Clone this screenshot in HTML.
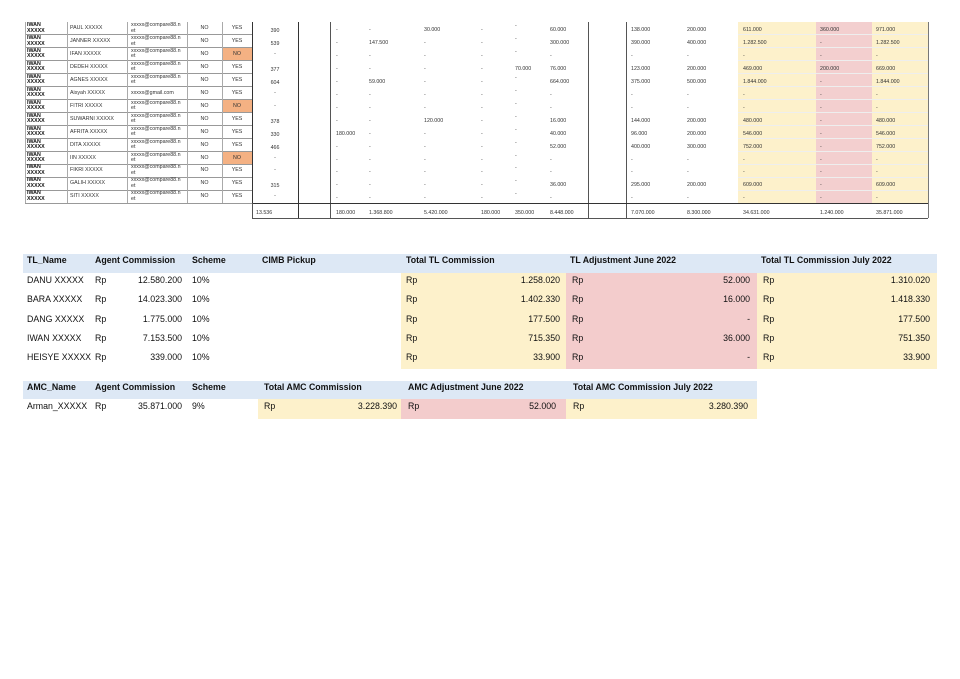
<!DOCTYPE html>
<html><head><meta charset="utf-8"><style>
body{margin:0;width:960px;height:679px;background:#fff;position:relative;overflow:hidden;font-family:"Liberation Sans",sans-serif;color:#222}
.a{position:absolute;white-space:nowrap}
.s{font-size:5.3px;line-height:5.6px;color:#333}
.t{font-size:8.8px;line-height:12px;color:#111}
.b{font-weight:bold}
</style></head><body>
<div id="root"></div>
<script>
const agents=["PAUL XXXXX","JANNER XXXXX","IFAN XXXXX","DEDEH XXXXX","AGNES XXXXX","Aisyah XXXXX","FITRI XXXXX","SUWARNI XXXXX","AFRITA XXXXX","DITA XXXXX","IIN XXXXX","FIKRI XXXXX","GALIH XXXXX","SITI XXXXX"];
const yesno=["YES","YES","NO","YES","YES","YES","NO","YES","YES","YES","NO","YES","YES","YES"];
const pts=["390","539","-","377","604","-","-","378","330","466","-","-","315","-"];
const mid=[["-","-","30.000","-","-","60.000"],["-","147.500","-","-","-","300.000"],["-","-","-","-","-","-"],["-","-","-","-","70.000","76.000"],["-","59.000","-","-","-","664.000"],["-","-","-","-","-","-"],["-","-","-","-","-","-"],["-","-","120.000","-","-","16.000"],["180.000","-","-","-","-","40.000"],["-","-","-","-","-","52.000"],["-","-","-","-","-","-"],["-","-","-","-","-","-"],["-","-","-","-","-","36.000"],["-","-","-","-","-","-"]];
const right=[["138.000","200.000","611.000","360.000","971.000"],["390.000","400.000","1.282.500","-","1.282.500"],["-","-","-","-","-"],["123.000","200.000","469.000","200.000","669.000"],["375.000","500.000","1.844.000","-","1.844.000"],["-","-","-","-","-"],["-","-","-","-","-"],["144.000","200.000","480.000","-","480.000"],["96.000","200.000","546.000","-","546.000"],["400.000","300.000","752.000","-","752.000"],["-","-","-","-","-"],["-","-","-","-","-"],["295.000","200.000","609.000","-","609.000"],["-","-","-","-","-"]];
const totMid=["180.000","1.368.800","5.420.000","180.000","350.000","8.448.000"];
const totRight=["7.070.000","8.300.000","34.631.000","1.240.000","35.871.000"];
const root=document.getElementById('root');
function box(x,y,w,h,bg,name){const d=document.createElement('div');d.className='a';d.style.cssText=`left:${x}px;top:${y}px;width:${w}px;height:${h}px;background:${bg}`;


root.appendChild(d);return d;}
function txt(x,y,s,cls,name,align,w){const d=document.createElement('div');d.className='a '+cls;d.textContent=s;d.style.left=x+'px';d.style.top=y+'px';if(align){d.style.width=w+'px';d.style.textAlign=align;}


root.appendChild(d);return d;}
const R0=22,RH=12.95;
box(738,R0,78,182,'#fdf1cb','commission-col-bg');
box(816,R0,56,182,'#f3cfcf','adjustment-col-bg');
box(872,R0,56,182,'#fdf1cb','total-col-bg');
for(let i=0;i<14;i++){const y=R0+i*RH;
 box(25,y+RH-0.6,227,0.7,'#999','row-line');
 box(738,y+RH-0.6,190,0.6,'#eee','row-line');
 if(yesno[i]==='NO') box(222,y+0.5,30,RH-1,'#f4b183','no-flag');
 const n=txt(27,y+1,'IWAN\nXXXXX','s b','tl-name');n.style.whiteSpace='pre';n.style.color='#111';
 txt(70,y+4,agents[i],'s','agent-name');
 const e=txt(131,y+(i==5?4:1),i==5?'xxxxx@gmail.com':'xxxxx@compare88.n\net','s','agent-email');e.style.whiteSpace='pre';
 txt(187,y+4,'NO','s','flag-a','center',35);
 txt(222,y+4,yesno[i],'s','flag-b','center',30);
 txt(252,y+(pts[i]==='-'?4:7),pts[i],'s','points','center',46);
 const mx=[336,369,424,481,515,550];
 mid[i].forEach((v,k)=>txt(mx[k],y+(k==4&&v=='-'?2:6),v,'s','mid-value'));
 const rx=[631,687,743,820,876];
 right[i].forEach((v,k)=>txt(rx[k],y+6,v,'s','right-value'));
}
[25,67,127,187,222].forEach(x=>box(x,R0,0.7,181,'#aaa','col-line'));
box(252,R0,1.4,181,'#333','col-line-thick');box(298,R0,1.4,196,'#333','col-line-thick');
box(330,R0,1,196,'#555','col-line');box(588,R0,1,196,'#555','col-line');box(626,R0,1,196,'#555','col-line');box(928,R0,1.2,196,'#777','col-line');
box(252,203,676,1.3,'#333','total-line');box(252,218,676,1,'#555','total-line');box(252,203,1,16,'#555','col-line');
txt(256,211,'13.536','s','total-points');
const mxT=[336,369,424,481,515,550];totMid.forEach((v,k)=>txt(mxT[k],211,v,'s','total-mid'));
const rxT=[631,687,743,820,876];totRight.forEach((v,k)=>txt(rxT[k],211,v,'s','total-right'));
const tlNames=["DANU XXXXX","BARA XXXXX","DANG XXXXX","IWAN XXXXX","HEISYE XXXXX"];
const tlAgent=["12.580.200","14.023.300","1.775.000","7.153.500","339.000"];
const tlTotal=["1.258.020","1.402.330","177.500","715.350","33.900"];
const tlAdj=["52.000","16.000","-","36.000","-"];
const tlJuly=["1.310.020","1.418.330","177.500","751.350","33.900"];
box(23,254,914,19,'#dde8f5','tl-header-bg');
box(401,273,165,96,'#fdf1cb','tl-total-bg');box(566,273,191,96,'#f3cccc','tl-adj-bg');box(757,273,180,96,'#fdf1cb','tl-july-bg');
[[27,'TL_Name'],[95,'Agent Commission'],[192,'Scheme'],[262,'CIMB Pickup'],[406,'Total TL Commission'],[570,'TL Adjustment June 2022'],[761,'Total TL Commission July 2022']].forEach(([x,s])=>txt(x,254,s,'t b','tl-header'));
for(let i=0;i<5;i++){const y=274+i*19.3;
 txt(27,y,tlNames[i],'t','tl-row-name');txt(95,y,'Rp','t','currency');txt(110,y,tlAgent[i],'t','agent-commission','right',72);
 txt(192,y,'10%','t','scheme');
 txt(406,y,'Rp','t','currency');txt(440,y,tlTotal[i],'t','tl-total','right',120);
 txt(572,y,'Rp','t','currency');txt(620,y,tlAdj[i],'t','tl-adjust','right',130);
 txt(763,y,'Rp','t','currency');txt(800,y,tlJuly[i],'t','tl-july','right',130);}
box(23,381,734,18,'#dde8f5','amc-header-bg');
box(258,399,143,20,'#fdf1cb','amc-total-bg');box(401,399,165,20,'#f3cccc','amc-adj-bg');box(566,399,191,20,'#fdf1cb','amc-july-bg');
[[27,'AMC_Name'],[95,'Agent Commission'],[192,'Scheme'],[264,'Total AMC Commission'],[408,'AMC Adjustment June 2022'],[573,'Total AMC Commission July 2022']].forEach(([x,s])=>txt(x,381,s,'t b','amc-header'));
txt(27,400,'Arman_XXXXX','t','amc-name');txt(95,400,'Rp','t','currency');txt(110,400,'35.871.000','t','amc-agent','right',72);txt(192,400,'9%','t','scheme');
txt(264,400,'Rp','t','currency');txt(290,400,'3.228.390','t','amc-total','right',107);
txt(408,400,'Rp','t','currency');txt(440,400,'52.000','t','amc-adjust','right',116);
txt(573,400,'Rp','t','currency');txt(620,400,'3.280.390','t','amc-july','right',128);
</script>
</body></html>
